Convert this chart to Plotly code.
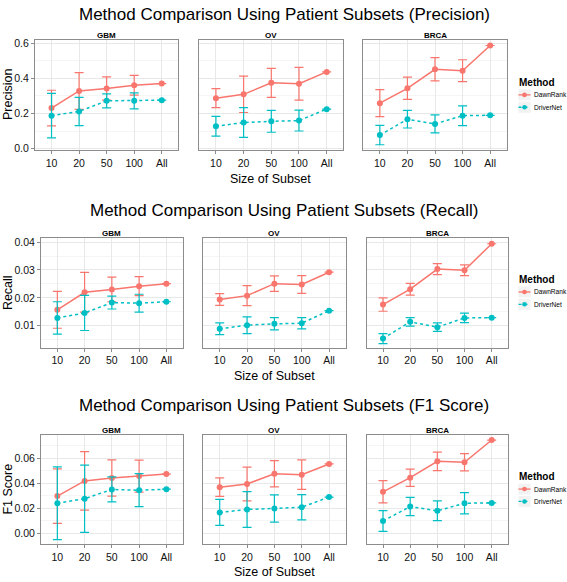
import plotly.graph_objects as go

# ---------------- data ----------------
sizes = ["10", "20", "50", "100", "All"]
cancers = ["GBM", "OV", "BRCA"]
methods = ["DawnRank", "DriverNet"]

# Precision (rows: GBM, OV, BRCA)
prec_dawnrank = [[0.231, 0.328, 0.342, 0.361, 0.370],
                 [0.287, 0.309, 0.374, 0.369, 0.436],
                 [0.259, 0.343, 0.451, 0.443, 0.586]]
prec_dawnrank_sd = [[0.101, 0.104, 0.066, 0.056, None],
                    [0.054, 0.103, 0.082, 0.093, None],
                    [0.077, 0.063, 0.066, 0.062, None]]
prec_drivernet = [[0.188, 0.212, 0.272, 0.272, 0.276],
                  [0.128, 0.149, 0.156, 0.160, 0.225],
                  [0.078, 0.168, 0.141, 0.188, 0.190]]
prec_drivernet_sd = [[0.126, 0.080, 0.040, 0.045, None],
                     [0.056, 0.084, 0.062, 0.059, None],
                     [0.055, 0.050, 0.051, 0.056, None]]

# Recall
rec_dawnrank = [[0.0157, 0.0220, 0.0230, 0.0242, 0.0251],
                [0.0194, 0.0208, 0.0251, 0.0248, 0.0292],
                [0.0176, 0.0231, 0.0303, 0.0299, 0.0394]]
rec_dawnrank_sd = [[0.0066, 0.0071, 0.0044, 0.0034, None],
                   [0.0021, 0.0036, 0.0028, 0.0032, None],
                   [0.0024, 0.0021, 0.0020, 0.0019, None]]
rec_drivernet = [[0.0128, 0.0146, 0.0183, 0.0181, 0.0186],
                 [0.0089, 0.0102, 0.0107, 0.0109, 0.0154],
                 [0.0054, 0.0114, 0.0095, 0.0128, 0.0129]]
rec_drivernet_sd = [[0.0058, 0.0063, 0.0023, 0.0032, None],
                    [0.0021, 0.0030, 0.0022, 0.0020, None],
                    [0.0018, 0.0015, 0.0015, 0.0017, None]]

# F1 score
f1_dawnrank = [[0.0296, 0.0417, 0.0440, 0.0456, 0.0472],
               [0.0367, 0.0393, 0.0474, 0.0467, 0.0553],
               [0.0330, 0.0443, 0.0574, 0.0566, 0.0744]]
f1_dawnrank_sd = [[0.0218, 0.0234, 0.0145, 0.0128, None],
                  [0.0074, 0.0135, 0.0105, 0.0118, None],
                  [0.0089, 0.0069, 0.0074, 0.0069, None]]
f1_drivernet = [[0.0239, 0.0275, 0.0349, 0.0343, 0.0351],
                [0.0165, 0.0189, 0.0197, 0.0207, 0.0288],
                [0.0097, 0.0212, 0.0178, 0.0239, 0.0241]]
f1_drivernet_sd = [[0.0291, 0.0269, 0.0100, 0.0132, None],
                   [0.0104, 0.0143, 0.0109, 0.0101, None],
                   [0.0083, 0.0073, 0.0079, 0.0085, None]]

metric_names = ["Precision", "Recall", "F1 Score"]
metric_vals = [(prec_dawnrank, prec_dawnrank_sd, prec_drivernet, prec_drivernet_sd),
               (rec_dawnrank, rec_dawnrank_sd, rec_drivernet, rec_drivernet_sd),
               (f1_dawnrank, f1_dawnrank_sd, f1_drivernet, f1_drivernet_sd)]

# ---------------- styling / layout ----------------
W, H = 567, 582
FONT = "Liberation Sans, Arial, Helvetica, sans-serif"
colors = {"DawnRank": "#F8766D", "DriverNet": "#00BFC4"}
dashes = {"DawnRank": "solid", "DriverNet": "dot"}

# pixel boxes for panels per row: (x-ranges for 3 panels), (top, bottom)
row_x = [[(35, 178.3), (199.3, 343.3), (363.3, 506.7)],
         [(41, 182.7), (203.3, 345.5), (366.7, 508)],
         [(41, 182.7), (203.3, 345.5), (366.7, 508)]]
row_y = [(37.3, 149), (238.3, 349), (437.3, 547.7)]
y_ranges = [[-0.008, 0.618], [0.0021, 0.0413], [-0.0088, 0.0784]]
y_dtick = [0.2, 0.01, 0.02]
y_minor = [0.1, 0.005, 0.01]
y_fmt = [".1f", ".2f", ".2f"]
title_y = [12, 210, 407]
xtitle_y = [178, 378, 576]
legend_y = [80, 279.5, 479]

def px(x):
    return x / W

def py(y):
    return 1 - y / H

fig = go.Figure()
layout = dict(width=W, height=H, margin=dict(l=0, r=0, t=0, b=0),
              paper_bgcolor="white", plot_bgcolor="white",
              showlegend=False, font=dict(family=FONT, color="#000"))
annotations = []
shapes = []

for r in range(3):
    dr, dr_sd, dn, dn_sd = metric_vals[r]
    for c in range(3):
        k = r * 3 + c + 1
        xa = "x" if k == 1 else f"x{k}"
        ya = "y" if k == 1 else f"y{k}"
        first_y = "y" if r == 0 else f"y{r*3+1}"
        x0, x1 = row_x[r][c]
        t, b = row_y[r]
        layout["xaxis" if k == 1 else f"xaxis{k}"] = dict(
            domain=[px(x0), px(x1)], anchor=ya, type="category",
            categoryorder="array", categoryarray=sizes, range=[-0.6, 4.6],
            showgrid=True, gridcolor="#E8E8E8", gridwidth=1,
            showline=True, mirror=True, linecolor="#8C8C8C", linewidth=1,
            ticks="outside", ticklen=3, tickcolor="#8C8C8C",
            tickfont=dict(size=10.5, color="#111", family=FONT), zeroline=False)
        ydict = dict(
            domain=[py(b), py(t)], anchor=xa, range=y_ranges[r],
            dtick=y_dtick[r], tick0=0, tickformat=y_fmt[r],
            showgrid=True, gridcolor="#E8E8E8", gridwidth=1,
            minor=dict(dtick=y_minor[r], tick0=0, showgrid=True,
                       gridcolor="#F5F5F5", gridwidth=1),
            showline=True, mirror=True, linecolor="#8C8C8C", linewidth=1,
            zeroline=False, tickfont=dict(size=10.5, color="#111", family=FONT))
        if c == 0:
            ydict.update(ticks="outside", ticklen=3, tickcolor="#8C8C8C",
                         showticklabels=True)
        else:
            ydict.update(ticks="", showticklabels=False, matches=first_y)
        layout["yaxis" if k == 1 else f"yaxis{k}"] = ydict

        for m, vals, sds in (("DawnRank", dr, dr_sd), ("DriverNet", dn, dn_sd)):
            fig.add_trace(go.Scatter(
                x=sizes, y=vals[c], xaxis=xa, yaxis=ya, name=m,
                mode="lines+markers",
                line=dict(color=colors[m], width=1.5, dash=dashes[m]),
                marker=dict(color=colors[m], size=6),
                error_y=dict(type="data", array=sds[c], visible=True,
                             color=colors[m], thickness=1.2, width=4.5),
                hoverinfo="x+y+name"))

        # facet strip label
        annotations.append(dict(text=f"<b>{cancers[c]}</b>", x=px((x0 + x1) / 2),
                                y=py(t - 4.5), xref="paper", yref="paper",
                                showarrow=False, font=dict(size=8, family=FONT),
                                xanchor="center", yanchor="middle"))

    # row title
    annotations.append(dict(
        text=f"Method Comparison Using Patient Subsets ({metric_names[r]})",
        x=px(284), y=py(title_y[r]), xref="paper", yref="paper", showarrow=False,
        font=dict(size=17, family=FONT), xanchor="center", yanchor="middle"))
    # x title
    xl = row_x[r][0][0]
    xr = row_x[r][2][1]
    annotations.append(dict(text="Size of Subset", x=px((xl + xr) / 2),
                            y=py(xtitle_y[r]), xref="paper", yref="paper",
                            showarrow=False, font=dict(size=12.5, family=FONT),
                            xanchor="center", yanchor="middle"))
    # y title
    t, b = row_y[r]
    annotations.append(dict(text=metric_names[r], x=px(8), y=py((t + b) / 2),
                            xref="paper", yref="paper", showarrow=False,
                            textangle=-90, font=dict(size=12.5, family=FONT),
                            xanchor="center", yanchor="middle"))

    # legend (drawn per row, like ggplot)
    ly = legend_y[r]
    annotations.append(dict(text="<b>Method</b>", x=px(517), y=py(ly),
                            xref="paper", yref="paper", showarrow=False,
                            font=dict(size=10, family=FONT),
                            xanchor="left", yanchor="middle"))
    for i, m in enumerate(methods):
        cy = ly + 13 + i * 12.5
        shapes.append(dict(type="rect", xref="paper", yref="paper",
                           x0=px(518), x1=px(531), y0=py(cy - 6), y1=py(cy + 6),
                           fillcolor="#F2F2F2", line=dict(width=0.8, color="white"),
                           layer="below"))
        shapes.append(dict(type="line", xref="paper", yref="paper",
                           x0=px(518.5), x1=px(530.5), y0=py(cy), y1=py(cy),
                           line=dict(color=colors[m], width=1.3, dash=dashes[m])))
        shapes.append(dict(type="circle", xref="paper", yref="paper",
                           x0=px(522.2), x1=px(526.8), y0=py(cy - 2.3), y1=py(cy + 2.3),
                           fillcolor=colors[m], line=dict(width=0)))
        annotations.append(dict(text=m, x=px(531.5), y=py(cy), xref="paper",
                                yref="paper", showarrow=False,
                                font=dict(size=6.6, family=FONT),
                                xanchor="left", yanchor="middle"))

layout["annotations"] = annotations
layout["shapes"] = shapes
fig.update_layout(**layout)
fig.write_html("out.html",
               config={"displayModeBar": False},
               post_script="document.body.style.margin='0';"
                           "document.body.style.padding='0';"
                           "document.body.style.overflow='hidden';")
